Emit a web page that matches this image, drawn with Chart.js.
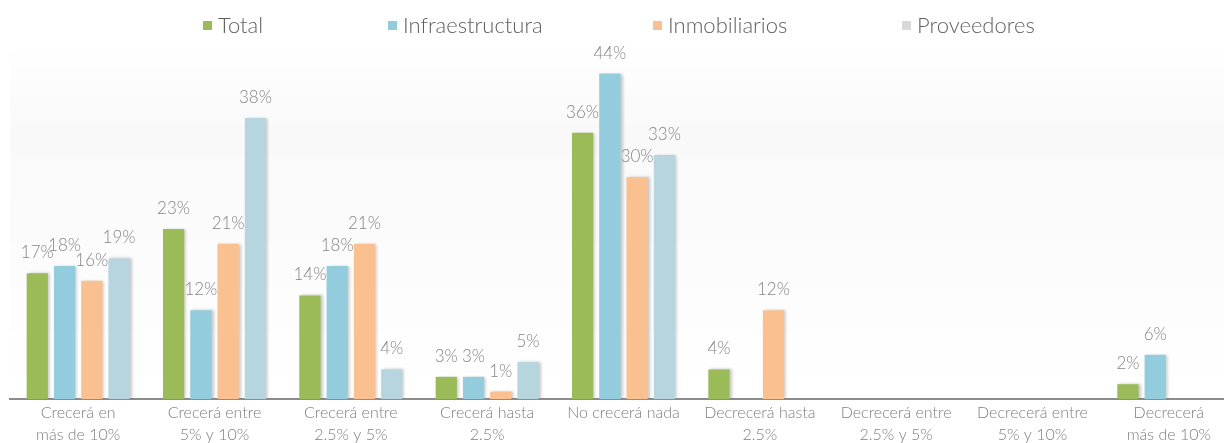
<!DOCTYPE html>
<html lang="es">
<head>
  <meta charset="UTF-8">
  <title>Expectativa de crecimiento</title>
  <script src="https://cdn.jsdelivr.net/npm/chart.js"></script>
  <style>
    body { margin: 0; background: #ffffff; font-family: Lato, 'Open Sans', sans-serif; overflow: hidden; }
    .wrap { position: relative; width: 1224px; height: 443px; overflow: hidden; }
    .legend { position: absolute; top: 11px; left: 0; width: 1224px; height: 30px; }
    .legend span { position: absolute; top: 0; font-size: 22px; font-weight: 300; color: #5f5f5f; white-space: nowrap; }
    .legend i { display: inline-block; width: 9px; height: 9px; margin-right: 6px; vertical-align: 3px; }
  </style>
</head>
<body>
  <div class="wrap">
    <div class="legend" id="legend"></div>
    <canvas id="chart" width="1240" height="443"></canvas>
  </div>

  <script>
    const categories = [
      ['Crecerá en', 'más de 10%'],
      ['Crecerá entre', '5% y 10%'],
      ['Crecerá entre', '2.5% y 5%'],
      ['Crecerá hasta', '2.5%'],
      ['No crecerá nada', ''],
      ['Decrecerá hasta', '2.5%'],
      ['Decrecerá entre', '2.5% y 5%'],
      ['Decrecerá entre', '5% y 10%'],
      ['Decrecerá', 'más de 10%']
    ];
    const seriesNames = ['Total', 'Infraestructura', 'Inmobiliarios', 'Proveedores'];
    const total           = [17, 23, 14, 3, 36, 4, null, null, 2];
    const infraestructura = [18, 12, 18, 3, 44, null, null, null, 6];
    const inmobiliarios   = [16, 21, 21, 1, 30, 12, null, null, null];
    const proveedores     = [19, 38, 4, 5, 33, null, null, null, null];

    const barColors = ['#9bbb59', '#93cddd', '#fac090', '#b7d5df'];
    const legendColors = ['#9bbb59', '#93cddd', '#fac090', '#d9d9d9'];
    const legendX = [203, 388, 653, 902];

    // legend row above the plot
    const legend = document.getElementById('legend');
    seriesNames.forEach((name, i) => {
      const s = document.createElement('span');
      s.style.left = legendX[i] + 'px';
      s.innerHTML = `<i style="background:${legendColors[i]}"></i>${name}`;
      legend.appendChild(s);
    });

    // faint grey wash behind the plot, fading at both ends
    const plotWash = {
      id: 'plotWash',
      beforeDraw(chart) {
        const { ctx, chartArea: a } = chart;
        const g = ctx.createLinearGradient(0, a.top, 0, a.bottom);
        g.addColorStop(0, 'rgba(0,0,0,0)');
        g.addColorStop(0.25, 'rgba(0,0,0,0.022)');
        g.addColorStop(1, 'rgba(0,0,0,0)');
        ctx.save();
        ctx.fillStyle = g;
        ctx.fillRect(a.left, a.top, a.right - a.left, a.bottom - a.top);
        ctx.restore();
      }
    };

    // percent labels over each bar
    const valueLabels = {
      id: 'valueLabels',
      afterDatasetsDraw(chart) {
        const ctx = chart.ctx;
        ctx.save();
        ctx.font = '300 17px Lato, "Open Sans", sans-serif';
        ctx.fillStyle = '#858585';
        ctx.textAlign = 'center';
        ctx.textBaseline = 'bottom';
        chart.data.datasets.forEach((ds, i) => {
          chart.getDatasetMeta(i).data.forEach((bar, j) => {
            const v = ds.data[j];
            if (v === null) return;
            ctx.fillText(v + '%', bar.x, bar.y - 12);
          });
        });
        ctx.restore();
      }
    };

    // soft shadow on the bars
    const barShadow = {
      id: 'barShadow',
      beforeDatasetsDraw(chart) {
        const ctx = chart.ctx;
        ctx.save();
        ctx.shadowColor = 'rgba(0,0,0,0.22)';
        ctx.shadowBlur = 3;
        ctx.shadowOffsetX = 2;
        ctx.shadowOffsetY = 0;
      },
      afterDatasetsDraw(chart) {
        chart.ctx.restore();
      }
    };

    const seriesData = [total, infraestructura, inmobiliarios, proveedores];

    new Chart(document.getElementById('chart'), {
      type: 'bar',
      data: {
        labels: categories,
        datasets: seriesNames.map((name, i) => ({
          label: name,
          data: seriesData[i],
          backgroundColor: barColors[i],
          borderWidth: 0,
          categoryPercentage: 0.8,
          barPercentage: 0.78
        }))
      },
      options: {
        responsive: false,
        animation: false,
        layout: { padding: { top: 44, left: 10, right: 3, bottom: 0 } },
        plugins: {
          legend: { display: false },
          tooltip: { enabled: false }
        },
        scales: {
          x: {
            grid: { display: false, drawTicks: false },
            border: { color: '#8c8c8c', width: 2 },
            afterFit(scale) { scale.height = 44; },
            ticks: {
              color: '#7f7f7f',
              font: { family: 'Lato, "Open Sans", sans-serif', size: 16, weight: 300, lineHeight: 1.38 },
              padding: 3,
              maxRotation: 0,
              autoSkip: false
            }
          },
          y: {
            display: false,
            min: 0,
            max: 48
          }
        }
      },
      plugins: [plotWash, barShadow, valueLabels]
    });
  </script>
</body>
</html>
